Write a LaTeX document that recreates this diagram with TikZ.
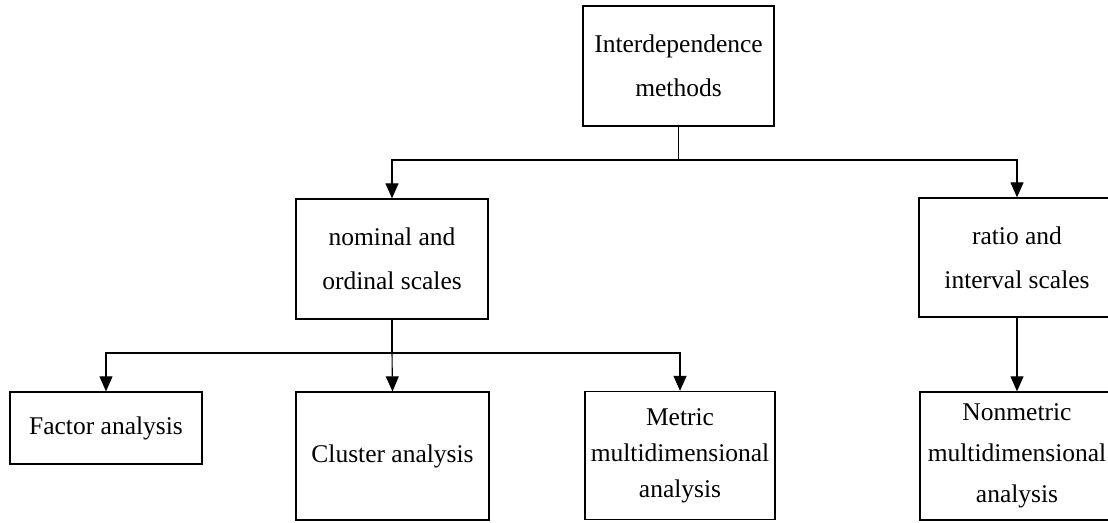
\documentclass[tikz,border=0pt]{standalone}
\usepackage{fontspec}
\setmainfont{Liberation Serif}
\usetikzlibrary{arrows.meta}
\begin{document}
\begin{tikzpicture}[x=1pt,y=-1pt,
  box/.style={draw,line width=1.3pt,inner sep=0pt,align=center,
    font=\fontsize{25.5}{44}\selectfont,minimum width=192pt},
  tallbox/.style={box,minimum height=128pt},
  link/.style={line width=1.1pt},
  arrow/.style={link,-{Triangle[length=15pt,width=13pt]}}]
\useasboundingbox (0,0) rectangle (1108,522);
\clip (0,0) rectangle (1108,522);
% top level
\node[box,minimum height=120pt,minimum width=191pt] (top) at (678.5,66)
  {Interdependence\\methods};
% measurement scales
\node[box,minimum height=120pt] (nominal) at (392,259)
  {nominal and\\ordinal scales};
\node[box,minimum height=119pt,minimum width=196pt] (ratio) at (1017,257.5)
  {ratio and\\interval scales};
% methods
\node[box,minimum height=72pt] (factor) at (106,428) {Factor analysis};
\node[tallbox,minimum width=193pt] (cluster) at (392.5,456) {Cluster analysis};
\node[tallbox,minimum width=190pt,font=\fontsize{25.5}{36}\selectfont] (metric) at (680,455.5)
  {Metric\\multidimensional\\analysis};
\node[tallbox,minimum width=194pt,font=\fontsize{25.5}{41}\selectfont] (nonmetric) at (1017,456)
  {Nonmetric\\multidimensional\\analysis};
% buses
\coordinate (busA) at (678.5,160);
\coordinate (busB) at (392,353);
\draw[link] (top.south) -- (busA);
\draw[arrow] (busA) -| (nominal.north);
\draw[arrow] (busA) -| (ratio.north);
\draw[link] (nominal.south) -- (busB);
\draw[arrow] (busB) -| (factor.north);
\draw[arrow] (busB) -- (cluster.north);
\draw[arrow] (busB) -| (metric.north);
\draw[arrow] (ratio.south) -- (nonmetric.north);
\end{tikzpicture}
\end{document}
